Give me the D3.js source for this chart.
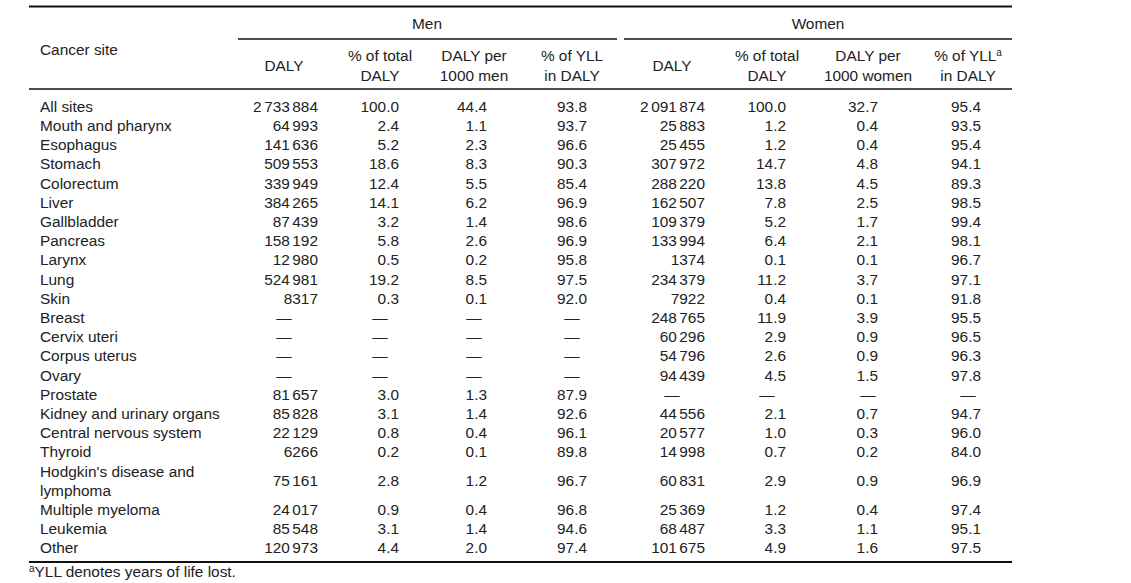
<!DOCTYPE html>
<html>
<head>
<meta charset="utf-8">
<script src="https://cdn.jsdelivr.net/npm/d3@7"></script>
<style>
  html, body { margin: 0; padding: 0; background: #fff; }
  svg { display: block; }
  text { font-family: "Liberation Sans", Arial, sans-serif; font-size: 15.4px; fill: #222; }
</style>
</head>
<body>
<svg id="chart" width="1131" height="583"></svg>
<script>
// ---------- data ----------
const categories = ["All sites", "Mouth and pharynx", "Esophagus", "Stomach", "Colorectum", "Liver",
  "Gallbladder", "Pancreas", "Larynx", "Lung", "Skin", "Breast", "Cervix uteri", "Corpus uterus", "Ovary",
  "Prostate", "Kidney and urinary organs", "Central nervous system", "Thyroid",
  "Hodgkin's disease and lymphoma", "Multiple myeloma", "Leukemia", "Other"];

const menDaly = [2733884, 64993, 141636, 509553, 339949, 384265, 87439, 158192, 12980, 524981, 8317,
  null, null, null, null, 81657, 85828, 22129, 6266, 75161, 24017, 85548, 120973];
const menPctTotal = [100.0, 2.4, 5.2, 18.6, 12.4, 14.1, 3.2, 5.8, 0.5, 19.2, 0.3,
  null, null, null, null, 3.0, 3.1, 0.8, 0.2, 2.8, 0.9, 3.1, 4.4];
const menPer1000 = [44.4, 1.1, 2.3, 8.3, 5.5, 6.2, 1.4, 2.6, 0.2, 8.5, 0.1,
  null, null, null, null, 1.3, 1.4, 0.4, 0.1, 1.2, 0.4, 1.4, 2.0];
const menPctYll = [93.8, 93.7, 96.6, 90.3, 85.4, 96.9, 98.6, 96.9, 95.8, 97.5, 92.0,
  null, null, null, null, 87.9, 92.6, 96.1, 89.8, 96.7, 96.8, 94.6, 97.4];

const womenDaly = [2091874, 25883, 25455, 307972, 288220, 162507, 109379, 133994, 1374, 234379, 7922,
  248765, 60296, 54796, 94439, null, 44556, 20577, 14998, 60831, 25369, 68487, 101675];
const womenPctTotal = [100.0, 1.2, 1.2, 14.7, 13.8, 7.8, 5.2, 6.4, 0.1, 11.2, 0.4,
  11.9, 2.9, 2.6, 4.5, null, 2.1, 1.0, 0.7, 2.9, 1.2, 3.3, 4.9];
const womenPer1000 = [32.7, 0.4, 0.4, 4.8, 4.5, 2.5, 1.7, 2.1, 0.1, 3.7, 0.1,
  3.9, 0.9, 0.9, 1.5, null, 0.7, 0.3, 0.2, 0.9, 0.4, 1.1, 1.6];
const womenPctYll = [95.4, 93.5, 95.4, 94.1, 89.3, 98.5, 99.4, 98.1, 96.7, 97.1, 91.8,
  95.5, 96.5, 96.3, 97.8, null, 94.7, 96.0, 84.0, 96.9, 97.4, 95.1, 97.5];

const groupLabels = ["Men", "Women"];
const colHeaders = [
  ["DALY"], ["% of total", "DALY"], ["DALY per", "1000 men"], ["% of YLL", "in DALY"],
  ["DALY"], ["% of total", "DALY"], ["DALY per", "1000 women"], ["% of YLL", "in DALY"]
];
const stubHeader = "Cancer site";
const footnote = "YLL denotes years of life lost.";

// ---------- layout ----------
const svg = d3.select("#chart");
const W = 1131, H = 583;
svg.append("rect").attr("width", W).attr("height", H).attr("fill", "#fff");

const colKeys = d3.range(8);
const colCenter = d3.scaleOrdinal().domain(colKeys).range([284, 380, 474, 572, 672, 767, 868, 968]);
const colRight = d3.scaleOrdinal().domain(colKeys).range([318, 399, 487, 587, 705, 786, 878, 981]);
const columns = [menDaly, menPctTotal, menPer1000, menPctYll, womenDaly, womenPctTotal, womenPer1000, womenPctYll];
const isCount = [true, false, false, false, true, false, false, false];

const tableLeft = 29, tableRight = 1012, labelX = 40;

function wrap(s, max) {
  const words = s.split(" "); const lines = []; let cur = "";
  words.forEach(w => {
    const t = cur ? cur + " " + w : w;
    if (t.length > max && cur) { lines.push(cur); cur = w; } else cur = t;
  });
  if (cur) lines.push(cur);
  return lines;
}
const labelLines = categories.map(c => c.length > 26 ? wrap(c, 22) : [c]);

// compute slots
let slot = 0;
const rowInfo = categories.map((c, i) => {
  const n = labelLines[i].length;
  const info = { start: slot, n: n, mid: slot + (n - 1) / 2 };
  slot += n;
  return info;
});
const totalSlots = slot;
const y = d3.scaleLinear().domain([0, totalSlots - 1]).range([106.5, 548]);

const fmtGroups = d => d >= 10000 ? d3.format(",")(d).split(",") : [String(d)];
const fmtDec = d3.format(".1f");

// rules
const rule = (x1, x2, yy, w) => svg.append("line").attr("x1", x1).attr("x2", x2)
  .attr("y1", yy).attr("y2", yy).attr("stroke", "#111").attr("stroke-width", w);
rule(tableLeft, tableRight, 6.5, 2);
rule(238, 617, 39, 1.3);
rule(624, tableRight, 39, 1.3);
rule(tableLeft, tableRight, 89, 1.3);
rule(tableLeft, tableRight, 562, 2);

// group headers
svg.selectAll("text.group").data(groupLabels).enter().append("text")
  .attr("class", "group").attr("x", (d, i) => i === 0 ? 427 : 818).attr("y", 24)
  .attr("dy", "0.35em").attr("text-anchor", "middle").text(d => d);

// stub header
svg.append("text").attr("x", labelX).attr("y", 50).attr("dy", "0.35em").text(stubHeader);

// column headers
colHeaders.forEach((lines, i) => {
  const ys = lines.length === 1 ? [66] : [56, 76];
  lines.forEach((ln, j) => {
    const t = svg.append("text").attr("x", colCenter(i)).attr("y", ys[j]).attr("dy", "0.35em")
      .attr("text-anchor", "middle");
    if ((i === 7) && j === 0) {
      t.append("tspan").text(ln);
      t.append("tspan").attr("dy", "-5").style("font-size", "10px").text("a");
    } else t.text(ln);
  });
});

// row labels
categories.forEach((c, i) => {
  labelLines[i].forEach((ln, j) => {
    svg.append("text").attr("x", labelX).attr("y", y(rowInfo[i].start + j)).attr("dy", "0.35em").text(ln);
  });
});

// cells
columns.forEach((vals, ci) => {
  const cells = svg.selectAll("text.c" + ci).data(vals).enter().append("text")
    .attr("class", "c" + ci)
    .attr("x", d => d === null ? colCenter(ci) : colRight(ci))
    .attr("y", (d, i) => y(rowInfo[i].mid))
    .attr("dy", "0.35em")
    .attr("text-anchor", d => d === null ? "middle" : "end");
  cells.each(function (d) {
    const t = d3.select(this);
    if (d === null) { t.text("\u2014"); return; }
    if (!isCount[ci]) { t.text(fmtDec(d)); return; }
    fmtGroups(d).forEach((g, k) => {
      t.append("tspan").attr("dx", k === 0 ? 0 : 2.5).text(g);
    });
  });
});

// footnote
const fn = svg.append("text").attr("x", 29).attr("y", 577).attr("dy", "0.35em");
fn.append("tspan").style("font-size", "10px").attr("dy", "-5").text("a");
fn.append("tspan").attr("dy", "5").text(footnote);
</script>
</body>
</html>
